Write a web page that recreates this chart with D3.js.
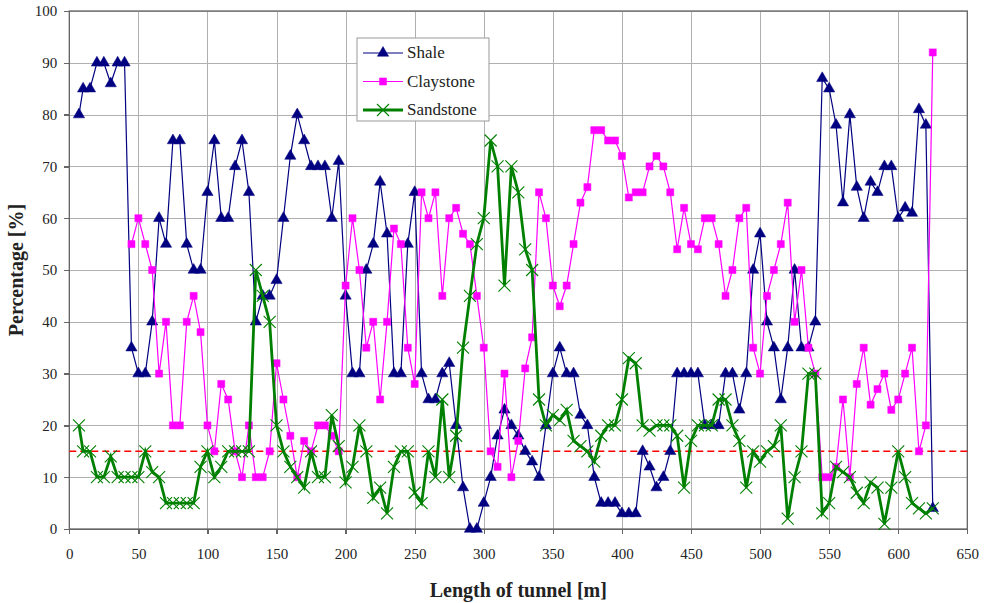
<!DOCTYPE html>
<html>
<head>
	<meta charset="utf-8">
	<title>Tunnel lithology</title>
	<script src="https://d3js.org/d3.v7.min.js"></script>
	<style type="text/css">
		body{ margin:0; background:#fff; }
		svg text{ font-family:"Liberation Serif","Times New Roman",serif; fill:#222; }
		.grid line{ stroke:#b0b0b0; stroke-width:1; shape-rendering:crispEdges; }
		.grid path{ display:none; }
		.axis path, .axis line{ stroke:#666; stroke-width:1.3; shape-rendering:crispEdges; }
		.axis text{ font-size:15px; }
	</style>
</head>
<body>
	<script type="text/javascript">
		// tunnel chainage [m] of every sample
		var dist = [7,10,15,20,25,30,35,40,45,50,55,60,65,70,75,80,85,90,95,100,
			105,110,115,120,125,130,135,140,145,150,155,160,165,170,175,180,185,190,195,200,
			205,210,215,220,225,230,235,240,245,250,255,260,265,270,275,280,285,290,295,300,
			305,310,315,320,325,330,335,340,345,350,355,360,365,370,375,380,385,390,395,400,
			405,410,415,420,425,430,435,440,445,450,455,460,465,470,475,480,485,490,495,500,
			505,510,515,520,525,530,535,540,545,550,555,560,565,570,575,580,585,590,595,600,
			605,610,615,620,625];

		var shale = [80,85,85,90,90,86,90,90,35,30,30,40,60,55,75,75,55,50,50,65,
			75,60,60,70,75,65,40,45,45,48,60,72,80,75,70,70,70,60,71,45,
			30,30,50,55,67,57,30,30,55,65,30,25,25,30,32,20,8,0,0,5,
			10,18,23,20,18,15,13,10,20,30,35,30,30,22,20,10,5,5,5,3,
			3,3,15,12,8,10,15,30,30,30,30,20,20,20,30,30,23,30,50,57,
			40,35,25,35,50,35,35,40,87,85,78,63,80,66,60,67,65,70,70,60,
			62,61,81,78,4];

		var claystone = [null,null,null,null,null,null,null,null,55,60,55,50,30,40,20,20,40,45,38,20,
			15,28,25,15,10,20,10,10,15,32,25,18,10,17,15,20,20,18,15,47,
			60,50,35,40,25,40,58,55,35,28,65,60,65,45,60,62,57,55,45,35,
			15,12,30,10,17,31,37,65,60,47,43,47,55,63,66,77,77,75,75,72,
			64,65,65,70,72,70,65,54,62,55,54,60,60,55,45,50,60,62,35,30,
			45,50,55,63,40,50,35,30,10,10,12,25,10,28,35,24,27,30,23,25,
			30,35,15,20,92];

		var sandstone = [20,15,15,10,10,14,10,10,10,10,15,11,10,5,5,5,5,5,12,15,
			10,12,15,15,15,15,50,45,40,20,15,12,10,8,15,10,10,22,16,9,
			12,20,15,6,8,3,12,15,15,7,5,15,10,25,10,18,35,45,55,60,
			75,70,47,70,65,54,50,25,20,22,21,23,17,16,15,13,18,20,20,25,
			33,32,20,19,20,20,20,18,8,17,20,20,20,25,25,20,17,8,15,13,
			15,16,20,2,10,15,30,30,3,5,12,11,10,7,5,9,8,1,8,15,
			10,5,4,3,4];

		var limit = 15;   // the red dashed reference level
		var xTicks = [0,50,100,150,200,250,300,350,400,450,500,550,600,650];
		var yTicks = [0,10,20,30,40,50,60,70,80,90,100];

		var w = 987;
		var h = 603;
		// plot box edges ("top" is taken by window, so p-prefixed names)
		var pLeft = 69.3, pRight = 967.3, pTop = 11, pBottom = 529;

		var svg = d3.select("body").append("svg")
			.attr("width", w)
			.attr("height", h);

		var xScale = d3.scaleLinear().domain([0,650]).range([pLeft,pRight]);
		var yScale = d3.scaleLinear().domain([0,100]).range([pBottom,pTop]);

		// grid lines first, behind everything
		svg.append("g")
			.attr("class","grid")
			.attr("transform","translate(0," + pBottom + ")")
			.call(d3.axisBottom(xScale).tickValues(xTicks).tickSize(-(pBottom-pTop)).tickFormat(""));
		svg.append("g")
			.attr("class","grid")
			.attr("transform","translate(" + pLeft + ",0)")
			.call(d3.axisLeft(yScale).tickValues(yTicks).tickSize(-(pRight-pLeft)).tickFormat(""));

		// plot frame
		svg.append("rect")
			.attr("x", pLeft).attr("y", pTop)
			.attr("width", pRight-pLeft).attr("height", pBottom-pTop)
			.attr("fill","none")
			.attr("stroke","#666")
			.attr("stroke-width",1.3);

		var xAxis = svg.append("g")
			.attr("class","axis")
			.attr("transform","translate(0," + pBottom + ")")
			.call(d3.axisBottom(xScale).tickValues(xTicks).tickSize(5).tickPadding(14).tickSizeOuter(0));
		xAxis.select("path").attr("stroke-width",2);

		svg.append("g")
			.attr("class","axis")
			.attr("transform","translate(" + pLeft + ",0)")
			.call(d3.axisLeft(yScale).tickValues(yTicks).tickSize(5).tickPadding(7).tickSizeOuter(0));

		svg.selectAll(".axis text").attr("fill","#222");

		// 15% line
		svg.append("line")
			.attr("x1", pLeft).attr("x2", pRight)
			.attr("y1", yScale(limit)).attr("y2", yScale(limit))
			.attr("stroke","#ff0000")
			.attr("stroke-width",1.6)
			.attr("stroke-dasharray","7,4");

		function pts(values){
			return dist.map(function(d,i){ return {x:d, y:values[i]}; })
				.filter(function(d){ return d.y !== null; });
		}

		var line = d3.line()
			.x(function(d){ return xScale(d.x); })
			.y(function(d){ return yScale(d.y); });

		var xMark = "M-6,-6L6,6M-6,6L6,-6";

		var series = [
			{name:"Shale", data:pts(shale), color:"#000080", width:1.2,
				mark:d3.symbol(d3.symbolTriangle, 55)(), fill:true},
			{name:"Claystone", data:pts(claystone), color:"#ff00ff", width:1.2,
				mark:d3.symbol(d3.symbolSquare, 50)(), fill:true},
			{name:"Sandstone", data:pts(sandstone), color:"#008000", width:2.8,
				mark:xMark, fill:false}
		];

		series.forEach(function(s){
			var g = svg.append("g");
			g.append("path")
				.datum(s.data)
				.attr("d", line)
				.attr("fill","none")
				.attr("stroke", s.color)
				.attr("stroke-width", s.width);
			g.selectAll("path.mk")
				.data(s.data)
				.enter()
				.append("path")
				.attr("class","mk")
				.attr("d", s.mark)
				.attr("transform", function(d){ return "translate(" + xScale(d.x) + "," + yScale(d.y) + ")"; })
				.attr("fill", s.fill ? s.color : "none")
				.attr("stroke", s.color)
				.attr("stroke-width", s.fill ? 0.5 : 1.1);
		});

		// legend
		var lg = svg.append("g").attr("transform","translate(357,38)");
		lg.append("rect")
			.attr("width",132).attr("height",83)
			.attr("fill","#fff")
			.attr("stroke","#999")
			.attr("stroke-width",1);
		series.forEach(function(s,i){
			var yy = 15 + i*28.5;
			lg.append("line")
				.attr("x1",6).attr("x2",46)
				.attr("y1",yy).attr("y2",yy)
				.attr("stroke", s.color)
				.attr("stroke-width", s.width);
			lg.append("path")
				.attr("d", s.mark)
				.attr("transform","translate(26," + yy + ")")
				.attr("fill", s.fill ? s.color : "none")
				.attr("stroke", s.color)
				.attr("stroke-width", s.fill ? 0.5 : 1.1);
			lg.append("text")
				.attr("x",50).attr("y",yy+5)
				.attr("font-size","17px")
				.text(s.name);
		});

		// axis titles
		svg.append("text")
			.attr("x",(pLeft+pRight)/2).attr("y",597)
			.attr("text-anchor","middle")
			.attr("font-size","20px")
			.attr("font-weight","bold")
			.text("Length of tunnel [m]");
		svg.append("text")
			.attr("transform","translate(23," + ((pTop+pBottom)/2) + ") rotate(-90)")
			.attr("text-anchor","middle")
			.attr("font-size","20px")
			.attr("font-weight","bold")
			.text("Percentage [%]");
	</script>
</body>
</html>
